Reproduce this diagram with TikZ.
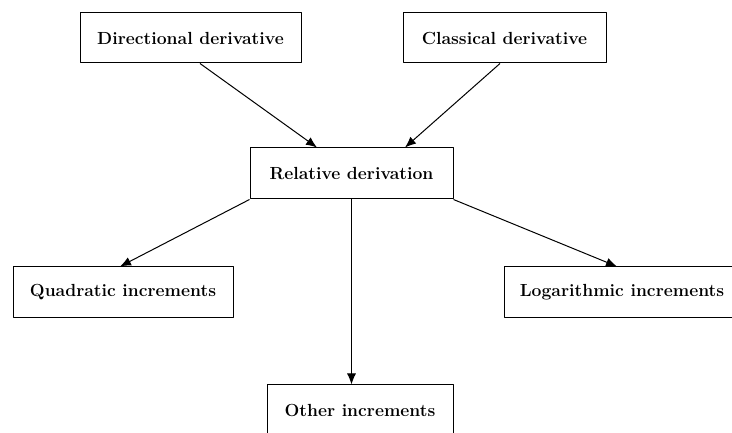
\documentclass[tikz,border=0pt]{standalone}
\usepackage{fontspec}
\usetikzlibrary{arrows.meta}
\begin{document}
\begin{tikzpicture}[>={Latex[length=11bp,width=9bp]},line join=bevel,
  box/.style={draw,rectangle,inner sep=0pt,font=\fontsize{17.6}{20}\selectfont\bfseries}]
  \pgfsetlinewidth{1bp}
  \useasboundingbox (0bp,0bp) rectangle (732bp,433bp);
%%
  % Node: Directional derivative
  \node[box,minimum width=221bp,minimum height=50bp] (dir) at (190.5bp,395bp) {Directional derivative};
  % Node: Classical derivative
  \node[box,minimum width=203bp,minimum height=50bp] (cla) at (504.5bp,395bp) {Classical derivative};
  % Node: Relative derivation
  \node[box,minimum width=203bp,minimum height=51bp] (rel) at (351.5bp,259.5bp) {Relative derivation};
  % Node: Quadratic increments
  \node[box,minimum width=220bp,minimum height=51bp] (quad) at (123bp,140.5bp) {Quadratic increments};
  % Node: Logarithmic increments
  \node[box,minimum width=236bp,minimum height=51bp] (log) at (622bp,140.5bp) {Logarithmic increments};
  % Node: Other increments
  \node[box,minimum width=186bp,minimum height=51bp] (oth) at (360bp,22.5bp) {Other increments};
%
  % Edge: Directional derivative -> Relative derivation
  \draw [->] ([xshift=9.5bp]dir.south) -- ([xshift=-34.5bp]rel.north);
  % Edge: Classical derivative -> Relative derivation
  \draw [->] ([xshift=-4.5bp]cla.south) -- ([xshift=53.5bp]rel.north);
  % Edge: Relative derivation -> Quadratic increments
  \draw [->] (rel.south west) -- ([xshift=-3bp]quad.north);
  % Edge: Relative derivation -> Logarithmic increments
  \draw [->] (rel.south east) -- ([xshift=-5bp]log.north);
  % Edge: Relative derivation -> Other increments
  \draw [->] (rel.south) -- (rel.south |- oth.north);
%
\end{tikzpicture}
\end{document}
